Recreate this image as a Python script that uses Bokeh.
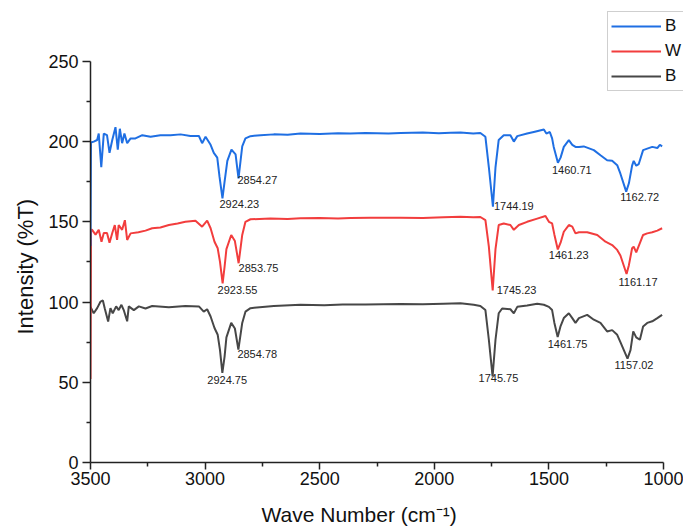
from bokeh.plotting import figure
from bokeh.models import Range1d, FixedTicker, Legend, LegendItem, ColumnDataSource, Title
from bokeh.embed import file_html
from bokeh.resources import INLINE
from bokeh.core.properties import value

# ---------------- data ----------------
blue_wn = [3500, 3498, 3486, 3471, 3464, 3453, 3442, 3428, 3417, 3405, 3391, 3381, 3372, 3362,
           3352, 3340, 3325, 3304, 3274, 3238, 3195, 3151, 3107, 3064, 3027, 3013, 2998, 2976,
           2962, 2947, 2937, 2924.23, 2915, 2903, 2885, 2867, 2854.27, 2838, 2824, 2802, 2758,
           2700, 2640, 2584, 2500, 2420, 2366, 2300, 2200, 2147, 2050, 1980, 1929, 1886, 1830,
           1799, 1777, 1762, 1744.19, 1733, 1719, 1697, 1668, 1653, 1638, 1595, 1566, 1522, 1511,
           1496, 1486, 1479, 1460.71, 1449, 1435, 1413, 1398, 1384, 1369, 1348, 1304, 1275, 1246,
           1224, 1202, 1188, 1162.72, 1151, 1137, 1130, 1119, 1108, 1089, 1071, 1049, 1027, 1016,
           1006]
blue_t = [135, 199.4, 200, 201, 205, 184, 205, 204, 193, 201, 209, 195, 208, 199,
          205, 199, 202, 202, 204, 203, 204, 204, 204.5, 203.5, 203.5, 199, 203, 198,
          193, 190, 178, 164.6, 175, 188, 195, 192, 177, 197, 202, 203.4, 204,
          204.5, 204.2, 205, 204.8, 205.2, 205, 205.3, 205, 205.3, 205.6, 205.2, 205.5, 205.6, 205,
          205.4, 203, 184, 159.4, 184, 201, 204, 204, 200, 203.4, 205, 206, 207.5, 205,
          206, 202, 196.7, 186.8, 190, 196.7, 200.9, 198, 196.7, 196.7, 197, 194.7, 191.5, 188.4,
          188, 185.3, 180, 168.8, 174, 185, 188, 185, 186, 194.7, 195.6, 196.7, 196, 198,
          197]

red_wn = [3500, 3498, 3493, 3478, 3464, 3452, 3442, 3428, 3417, 3405, 3394, 3384, 3377, 3362,
          3350, 3340, 3325, 3291, 3260, 3231, 3195, 3158, 3120, 3086, 3042, 3013, 2991, 2976,
          2959, 2945, 2935, 2923.55, 2915, 2907, 2886, 2870, 2853.75, 2838, 2824, 2802, 2715,
          2640, 2584, 2500, 2420, 2366, 2280, 2147, 2050, 1960, 1886, 1830, 1799, 1777, 1762,
          1745.23, 1733, 1719, 1697, 1668, 1653, 1631, 1595, 1551, 1515, 1500, 1486, 1476,
          1461.23, 1449, 1435, 1413, 1398, 1384, 1369, 1333, 1289, 1253, 1224, 1202, 1188,
          1161.17, 1151, 1137, 1130, 1119, 1089, 1071, 1049, 1027, 1006]
red_t = [52, 145, 145, 142, 145, 137.6, 143, 143, 137, 143, 148, 138.7, 148, 145,
         151, 138.7, 142.8, 143.5, 144.5, 146, 146.5, 148, 149, 150, 150.7, 147, 150.7, 146,
         137.6, 133.5, 125, 111.7, 122, 133, 141.8, 138, 124.2, 141.8, 150, 151.6, 152,
         151.8, 152.2, 152.4, 152.1, 152.4, 152.6, 152.6, 152.4, 152.9, 153.2, 152.8, 153, 151, 134.5,
         107.2, 133, 148, 149, 148, 145, 148, 150, 152, 153.6, 150, 149, 142,
         132.8, 137, 143.8, 148, 147, 142.8, 143.5, 143.5, 141.8, 137.6, 135.5, 132.5, 129,
         117.5, 123, 133.5, 134.5, 131, 141.8, 142.8, 143.5, 144.5, 146]

black_wn = [3500, 3486, 3471, 3456, 3446, 3438, 3423, 3413, 3403, 3388, 3377, 3365, 3355, 3340,
            3333, 3311, 3289, 3260, 3231, 3158, 3086, 3027, 3006, 2991, 2976, 2959, 2945, 2935,
            2924.75, 2915, 2907, 2886, 2870, 2854.78, 2838, 2824, 2802, 2700, 2584, 2480, 2400,
            2300, 2147, 2050, 1960, 1886, 1828, 1799, 1777, 1762, 1745.75, 1733, 1719, 1704, 1668,
            1653, 1638, 1595, 1551, 1522, 1500, 1486, 1476, 1461.75, 1449, 1435, 1413, 1398, 1384,
            1369, 1333, 1304, 1275, 1246, 1224, 1202, 1188, 1157.02, 1144, 1132, 1119, 1103, 1089,
            1071, 1049, 1027, 1006]
black_t = [97, 93, 96.2, 100.3, 101, 96.2, 87.9, 96.2, 93, 97.3, 95, 98.3, 95, 88,
           97.3, 95, 97.3, 96, 97.5, 96.8, 97.6, 97.3, 94, 95.5, 91, 83.8, 79.6, 70,
           55.8, 66, 78, 87, 83.5, 70.3, 87, 94, 96.2, 97.6, 98.3, 98, 98.5,
           98.4, 98.8, 98.6, 99, 99.3, 98.3, 97.6, 95, 76.5, 53.7, 76.5, 93, 96, 95.5,
           93, 97, 97.8, 98.9, 98.3, 97, 95, 87, 78.2, 85, 90, 93, 90, 87,
           90, 92, 89, 87, 81.7, 82.5, 79.6, 75, 64.7, 70, 81.7, 78, 76.5, 84.8,
           87, 88, 90, 92]

series_names = ["B", "W", "B"]

peak_wn = [2924.23, 2854.27, 1744.19, 1460.71, 1162.72,
           2923.55, 2853.75, 1745.23, 1461.23, 1161.17,
           2924.75, 2854.78, 1745.75, 1461.75, 1157.02]
peak_t = [164.6, 177, 159.4, 186.8, 168.8,
          111.7, 124.2, 107.2, 132.8, 117.5,
          55.8, 70.3, 53.7, 78.2, 64.7]
peak_labels = ["2924.23", "2854.27", "1744.19", "1460.71", "1162.72",
               "2923.55", "2853.75", "1745.23", "1461.23", "1161.17",
               "2924.75", "2854.78", "1745.75", "1461.75", "1157.02"]

x_ticks = [3500, 3000, 2500, 2000, 1500, 1000]
x_minor = [3250, 2750, 2250, 1750, 1250]
y_ticks = [0, 50, 100, 150, 200, 250]
y_minor = [25, 75, 125, 175, 225]

x_title = "Wave Number (cm\u207b\u00b9)"
y_title = "Intensity (%T)"

# ---------------- layout / style ----------------
W, H = 683, 527
AX_LEFT, AX_RIGHT, AX_TOP, AX_BOTTOM = 90, 663, 61, 463   # pixel positions of the axes
FRAME_TOP = 0
x0, x1 = x_ticks[0], x_ticks[-1]
y0, y1 = y_ticks[0], y_ticks[-1]
px_per_x = (AX_RIGHT - AX_LEFT) / (x0 - x1)
px_per_y = (AX_BOTTOM - AX_TOP) / (y1 - y0)
x_end = x1 - (W - AX_RIGHT) / px_per_x
y_end = y1 + (AX_TOP - FRAME_TOP) / px_per_y

label_dx = [-3, -1, 1, -6, -6, -5, 0, 4, -9, -8, -15, -1, -14, -10, -13]
label_dy = [2, -2, -5, 3, 1, 3, 1, -4, 2, 4, 3, 0, -2, 3, 2]

FONT = "Liberation Sans"
colors = ["#1f6fe3", "#f23d3d", "#474747"]

p = figure(width=W, height=H,
           x_range=Range1d(x0, x_end), y_range=Range1d(y0, y_end),
           output_backend="svg", toolbar_location=None,
           min_border_left=AX_LEFT, min_border_right=0, min_border_top=FRAME_TOP,
           min_border_bottom=H - AX_BOTTOM)
p.outline_line_color = None
p.xgrid.visible = False
p.ygrid.visible = False
p.background_fill_color = "white"
p.border_fill_color = "white"

r_black = p.line(black_wn, black_t, line_color=colors[2], line_width=2)
r_red = p.line(red_wn, red_t, line_color=colors[1], line_width=2)
r_blue = p.line(blue_wn, blue_t, line_color=colors[0], line_width=2)

src = ColumnDataSource(dict(x=peak_wn, y=peak_t, t=peak_labels, dx=label_dx, dy=label_dy))
p.text(x="x", y="y", text="t", x_offset="dx", y_offset="dy", source=src,
       text_font=value(FONT), text_font_size="11px", text_color="#222222",
       text_align="left", text_baseline="top")

for ax in (p.xaxis[0], p.yaxis[0]):
    ax.axis_line_color = "#222222"
    ax.axis_line_width = 1.5
    ax.major_tick_line_color = "#222222"
    ax.major_tick_line_width = 1.5
    ax.minor_tick_line_color = "#222222"
    ax.minor_tick_line_width = 1.5
    ax.major_tick_in = 0
    ax.minor_tick_in = 0
    ax.major_label_text_font = FONT
    ax.major_label_text_font_size = "18px"
    ax.major_label_text_color = "#111111"

p.xaxis.bounds = (x1, x0)
p.yaxis.bounds = (y0, y1)
p.xaxis.ticker = FixedTicker(ticks=x_ticks, minor_ticks=x_minor)
p.yaxis.ticker = FixedTicker(ticks=y_ticks, minor_ticks=y_minor)
p.xaxis.major_tick_out = 7
p.xaxis.minor_tick_out = 4
p.yaxis.major_tick_out = 8
p.yaxis.minor_tick_out = 4
p.xaxis.major_label_standoff = 2
p.yaxis.major_label_standoff = 4
# tiny spacer so the x title sits a little below the tick labels
p.xaxis.axis_label = " "
p.xaxis.axis_label_text_font_size = "1px"
p.xaxis.axis_label_standoff = 11

# axis titles placed as side-panel titles so they sit centred on the drawn axes
xt = Title(text=x_title, align="left", offset=171, standoff=0, vertical_align="top",
           text_font=FONT, text_font_size="21px", text_font_style="normal",
           text_color="#111111")
yt = Title(text=y_title, align="left", offset=128, standoff=16, vertical_align="bottom",
           text_font=FONT, text_font_size="22px", text_font_style="normal",
           text_color="#111111")
p.add_layout(xt, "below")
p.add_layout(yt, "left")

legend = Legend(items=[LegendItem(label=series_names[0], renderers=[r_blue]),
                       LegendItem(label=series_names[1], renderers=[r_red]),
                       LegendItem(label=series_names[2], renderers=[r_black])],
                location=(607 - AX_LEFT, AX_BOTTOM - 92), orientation="vertical",
                border_line_color="#a0a0a0", border_line_width=1.5,
                padding=3, spacing=3, margin=0,
                glyph_width=50, glyph_height=22, label_height=22, label_width=40,
                label_standoff=4, label_text_font=FONT, label_text_font_size="17px",
                label_text_color="#111111", background_fill_alpha=1.0)
p.add_layout(legend)

open("out.html", "w").write(file_html(p, INLINE))
